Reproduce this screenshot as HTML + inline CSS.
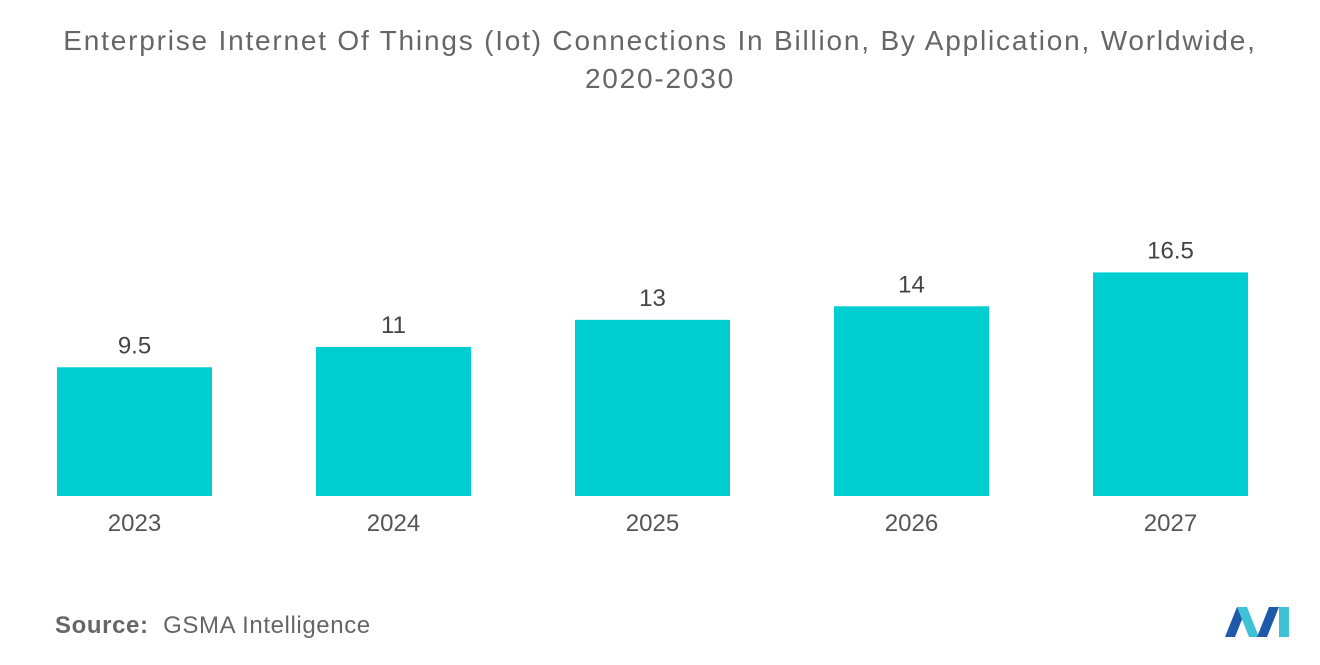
<!DOCTYPE html>
<html><head><meta charset="utf-8"><style>
body{margin:0;width:1320px;height:665px;background:#fff;font-family:"Liberation Sans",sans-serif;overflow:hidden;position:relative}
#title{position:absolute;top:22px;left:0;width:1320px;text-align:center;color:#666;font-size:28px;line-height:38px;letter-spacing:1.8px}
#src{position:absolute;left:55px;top:612px;font-size:24px;color:#666;letter-spacing:0.6px}
</style></head><body>
<div id="title">Enterprise Internet Of Things (Iot) Connections In Billion, By Application, Worldwide,<br>2020-2030</div>
<svg id="chart" width="1320" height="665" style="position:absolute;left:0;top:0"></svg>
<div id="src"><b>Source:</b>&nbsp;&nbsp;GSMA Intelligence</div>
<svg width="70" height="36" style="position:absolute;left:1223px;top:603px">
<polygon points="2,34 14,4 24,4 12,34" fill="#1e5aa8"/><polygon points="14,4 24,4 36,34 26,34" fill="#3fc1d6"/>
<polygon points="34,34 46,4 56,4 44,34" fill="#1e5aa8"/><polygon points="56,4 66,4 66,34 56,34" fill="#3fc1d6"/>
</svg>
<script>
const categories=["2023","2024","2025","2026","2027"];
const values=[9.5,11,13,14,16.5];
const labels=["9.5","11","13","14","16.5"];
const svg=document.getElementById('chart');
const NS="http://www.w3.org/2000/svg";
const baseY=496, pxPerUnit=13.55, x0=57, step=259, bw=155;
function xS(i){return x0+i*step;}
function yS(v){return baseY-v*pxPerUnit;}
categories.forEach((c,i)=>{
 const r=document.createElementNS(NS,'rect');
 
 
 r.setAttribute('x',xS(i));r.setAttribute('y',yS(values[i]));
 r.setAttribute('width',bw);r.setAttribute('height',baseY-yS(values[i]));
 r.setAttribute('fill','#00ced1');svg.appendChild(r);
 const t=document.createElementNS(NS,'text');
 
 
 t.setAttribute('x',xS(i)+bw/2);t.setAttribute('y',yS(values[i])-14);
 t.setAttribute('text-anchor','middle');t.setAttribute('font-size','24');t.setAttribute('fill','#444');
 t.textContent=labels[i];svg.appendChild(t);
 const a=document.createElementNS(NS,'text');
 
 
 a.setAttribute('x',xS(i)+bw/2);a.setAttribute('y',531);
 a.setAttribute('text-anchor','middle');a.setAttribute('font-size','24');a.setAttribute('fill','#555');
 a.textContent=c;svg.appendChild(a);
});
</script>
</body></html>
